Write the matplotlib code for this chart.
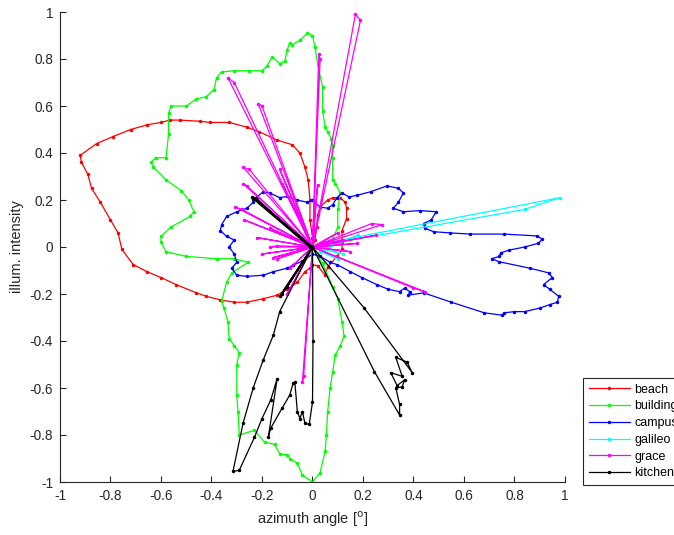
import matplotlib
matplotlib.use("Agg")
import matplotlib.pyplot as plt

plt.rcParams['font.family'] = ['Liberation Sans', 'DejaVu Sans']

series_names = ['beach', 'building', 'campus', 'galileo', 'grace', 'kitchen']
series_colors = ['#ff0000', '#00ff00', '#0000ff', '#00ffff', '#ff00ff', '#000000']

beach_x = [0, 0.01, 0.017, 0.02, 0.03, 0.06, 0.08, 0.11, 0.13, 0.135, 0.135, 0.117, 0.117, 0.117,
           0.097, 0.06, 0.05, 0.02, 0.0, -0.01, -0.03, -0.06, -0.10, -0.14, -0.195, -0.26, -0.31,
           -0.365, -0.42, -0.46, -0.54, -0.60, -0.655, -0.71, -0.755, -0.77, -0.80, -0.84, -0.875,
           -0.89, -0.915, -0.92, -0.855, -0.79, -0.72, -0.655, -0.60, -0.565, -0.525, -0.445, -0.405,
           -0.33, -0.26, -0.21, -0.14, -0.08, -0.05, -0.03, -0.017, -0.01, -0.01, 0.0, 0]
beach_y = [0, 0.03, 0.085, 0.135, 0.17, 0.20, 0.21, 0.21, 0.19, 0.165, 0.12, 0.07, 0.02, -0.01,
           -0.04, -0.085, -0.12, -0.08, -0.075, -0.09, -0.105, -0.15, -0.18, -0.205, -0.22, -0.235,
           -0.235, -0.225, -0.21, -0.195, -0.16, -0.13, -0.105, -0.075, -0.01, 0.06, 0.115, 0.19,
           0.25, 0.31, 0.36, 0.39, 0.44, 0.47, 0.50, 0.52, 0.53, 0.54, 0.54, 0.535, 0.53, 0.53, 0.51,
           0.49, 0.455, 0.435, 0.40, 0.34, 0.285, 0.20, 0.115, 0.04, 0]

building_x = [0, 0.05, 0.08, 0.10, 0.10, 0.11, 0.09, 0.08, 0.08, 0.08, 0.075, 0.06, 0.05, 0.04,
              0.04, 0.02, 0.01, 0.0, -0.02, -0.05, -0.08, -0.09, -0.10, -0.11, -0.13, -0.16, -0.18,
              -0.20, -0.25, -0.31, -0.36, -0.38, -0.39, -0.42, -0.46, -0.50, -0.56, -0.57, -0.57,
              -0.58, -0.62, -0.64, -0.63, -0.58, -0.52, -0.49, -0.47, -0.485, -0.56, -0.60, -0.60,
              -0.58, -0.50, -0.38, -0.31, -0.255, -0.32, -0.34, -0.36, -0.35, -0.335, -0.33, -0.31,
              -0.29, -0.30, -0.30, -0.295, -0.29, -0.23, -0.19, -0.15, -0.13, -0.10, -0.09, -0.06,
              -0.04, 0.0, 0.03, 0.05, 0.055, 0.06, 0.07, 0.08, 0.09, 0.11, 0.125, 0.117, 0.10, 0.08,
              0.04, 0]
building_y = [0, 0.02, 0.03, 0.085, 0.16, 0.23, 0.27, 0.285, 0.38, 0.43, 0.46, 0.49, 0.51, 0.58,
              0.68, 0.78, 0.85, 0.90, 0.91, 0.88, 0.86, 0.87, 0.84, 0.79, 0.78, 0.81, 0.77, 0.75,
              0.75, 0.75, 0.745, 0.72, 0.67, 0.64, 0.63, 0.60, 0.60, 0.57, 0.48, 0.38, 0.38, 0.36,
              0.34, 0.285, 0.24, 0.20, 0.15, 0.13, 0.085, 0.045, 0.02, -0.02, -0.04, -0.05, -0.05,
              -0.065, -0.11, -0.15, -0.23, -0.26, -0.32, -0.39, -0.42, -0.45, -0.50, -0.63, -0.70,
              -0.80, -0.78, -0.83, -0.84, -0.88, -0.885, -0.90, -0.92, -0.97, -1.0, -0.96, -0.87,
              -0.80, -0.70, -0.60, -0.53, -0.46, -0.42, -0.38, -0.32, -0.22, -0.17, -0.07, 0]

campus_x = [-0.077, -0.10, -0.155, -0.195, -0.26, -0.30, -0.32, -0.30, -0.31, -0.33, -0.31, -0.34,
            -0.365, -0.36, -0.34, -0.30, -0.26, -0.235, -0.22, -0.195, -0.17, -0.13, -0.10, -0.06,
            -0.02, 0.0, 0.03, 0.06, 0.08, 0.097, 0.117, 0.145, 0.175, 0.23, 0.295, 0.34, 0.36, 0.34,
            0.32, 0.36, 0.425, 0.49, 0.47, 0.44, 0.445, 0.48, 0.545, 0.625, 0.76, 0.89, 0.91, 0.895,
            0.84, 0.78, 0.745, 0.74, 0.71, 0.74, 0.86, 0.935, 0.95, 0.915, 0.94, 0.975, 0.97, 0.94,
            0.90, 0.84, 0.80, 0.76, 0.75, 0.68, 0.55, 0.44, 0.38, 0.385, 0.365, 0.345, 0.30, 0.255,
            0.195, 0.15, 0.097, 0.07, 0.03, 0.0, -0.04, -0.077]
campus_y = [-0.077, -0.09, -0.105, -0.12, -0.125, -0.12, -0.09, -0.065, -0.03, 0.0, 0.03, 0.045,
            0.07, 0.095, 0.13, 0.15, 0.165, 0.19, 0.213, 0.235, 0.23, 0.21, 0.215, 0.20, 0.19, 0.20,
            0.17, 0.165, 0.18, 0.21, 0.23, 0.213, 0.22, 0.235, 0.26, 0.25, 0.23, 0.19, 0.165, 0.15,
            0.155, 0.15, 0.115, 0.10, 0.08, 0.065, 0.06, 0.055, 0.055, 0.047, 0.033, 0.016, 0.0,
            -0.013, -0.025, -0.04, -0.05, -0.063, -0.09, -0.11, -0.13, -0.16, -0.18, -0.21, -0.235,
            -0.245, -0.26, -0.275, -0.275, -0.28, -0.29, -0.28, -0.235, -0.195, -0.205, -0.19,
            -0.175, -0.19, -0.18, -0.16, -0.13, -0.105, -0.075, -0.065, -0.04, -0.03, -0.06, -0.077]

galileo_x = [0, 0.84, 0.98, 0.02, 0.12, 0.04, 0.18, 0.03, 0.10, 0]
galileo_y = [0, 0.16, 0.21, 0.01, -0.03, -0.01, 0.05, -0.02, -0.05, 0]

grace_x = [0, -0.335, -0.31, 0, -0.215, -0.20, 0, 0.025, 0.03, 0, 0.17, 0.19, 0,
           -0.275, -0.25, 0, -0.275, -0.26, 0, -0.305, -0.28, 0, -0.27, 0, -0.17, 0,
           -0.17, -0.14, 0, -0.155, 0, -0.12, 0, -0.13, 0, 0.02, 0,
           0.235, 0.275, 0, 0.175, 0, 0.445, 0.40, 0, -0.04, -0.035, 0,
           -0.10, 0, -0.14, 0, -0.09, 0, 0.12, 0, 0.15, 0, -0.22, 0, -0.20, 0, 0.25, 0, 0.10, 0]
grace_y = [0, 0.72, 0.70, 0, 0.61, 0.60, 0, 0.82, 0.80, 0, 0.99, 0.965, 0,
           0.34, 0.33, 0, 0.27, 0.26, 0, 0.17, 0.16, 0, 0.115, 0, 0.08, 0,
           0.0, 0.005, 0, -0.045, 0, 0.27, 0, 0.33, 0, 0.265, 0,
           0.10, 0.095, 0, 0.015, 0, -0.19, -0.175, 0, -0.575, -0.55, 0,
           -0.20, 0, -0.05, 0, -0.09, 0, 0.03, 0, -0.02, 0, 0.04, 0, -0.03, 0, 0.05, 0, 0.06, 0]

kitchen_x = [0, -0.24, -0.225, -0.01, -0.22, 0, -0.235, -0.005, -0.13, 0, -0.10, 0, -0.12, 0,
             -0.13, -0.155, -0.195, -0.235, -0.275, -0.315, -0.29, -0.23, -0.20, -0.165, -0.14,
             -0.175, -0.165, -0.12, -0.09, -0.077, -0.07, -0.06, -0.05, -0.04, -0.03, -0.013, 0.0,
             0.002, 0,
             0.205, 0.395, 0.375, 0.33, 0.355, 0.31, 0.335, 0.365, 0.355, 0.33, 0.345, 0.345, 0.245, 0]
kitchen_y = [0, 0.213, 0.21, 0.0, 0.20, 0, 0.205, -0.005, -0.21, 0, -0.17, 0, -0.20, 0,
             -0.275, -0.375, -0.48, -0.60, -0.75, -0.955, -0.95, -0.81, -0.73, -0.65, -0.56,
             -0.81, -0.77, -0.685, -0.63, -0.58, -0.575, -0.70, -0.73, -0.70, -0.75, -0.755, -0.66,
             -0.40, 0,
             -0.26, -0.535, -0.49, -0.47, -0.55, -0.535, -0.59, -0.565, -0.595, -0.60, -0.67, -0.715,
             -0.53, 0]

all_x = [beach_x, building_x, campus_x, galileo_x, grace_x, kitchen_x]
all_y = [beach_y, building_y, campus_y, galileo_y, grace_y, kitchen_y]

xticks = [-1, -0.8, -0.6, -0.4, -0.2, 0, 0.2, 0.4, 0.6, 0.8, 1]
yticks = [-1, -0.8, -0.6, -0.4, -0.2, 0, 0.2, 0.4, 0.6, 0.8, 1]
xtick_labels = ['-1', '-0.8', '-0.6', '-0.4', '-0.2', '0', '0.2', '0.4', '0.6', '0.8', '1']
ytick_labels = ['-1', '-0.8', '-0.6', '-0.4', '-0.2', '0', '0.2', '0.4', '0.6', '0.8', '1']

W, H = 674, 535
fig = plt.figure(figsize=(W / 100, H / 100), dpi=100)
ax = fig.add_axes([60 / W, 1 - 482 / H, (565 - 60) / W, (482 - 12) / H])

for xs, ys, name, col in zip(all_x, all_y, series_names, series_colors):
    ax.plot(xs, ys, '-', color=col, marker='.', markersize=3, linewidth=0.9, label=name)

ax.set_xlim(-1, 1)
ax.set_ylim(-1, 1)
ax.set_xticks(xticks)
ax.set_xticklabels(xtick_labels)
ax.set_yticks(yticks)
ax.set_yticklabels(ytick_labels)
axc = '#262626'
for s in ['top', 'right']:
    ax.spines[s].set_visible(False)
for s in ['left', 'bottom']:
    ax.spines[s].set_color(axc)
    ax.spines[s].set_linewidth(0.8)
ax.tick_params(direction='in', length=4, width=0.8, colors=axc, labelsize=9.8, pad=5)
ax.set_xlabel('azimuth angle [$^{\\mathrm{o}}$]', fontsize=10.5, color=axc, labelpad=5)
ax.set_ylabel('illum. intensity', fontsize=10.5, color=axc, labelpad=4)

leg = ax.legend(loc='upper left', bbox_to_anchor=(583 / W, 1 - 378 / H),
                bbox_transform=fig.transFigure, borderaxespad=0, fontsize=9,
                fancybox=False, framealpha=1, edgecolor='#262626', handlelength=3.3,
                handletextpad=0.35, labelspacing=0.38, borderpad=0.45)
leg.get_frame().set_linewidth(0.8)

fig.savefig('out.png', dpi=100)
